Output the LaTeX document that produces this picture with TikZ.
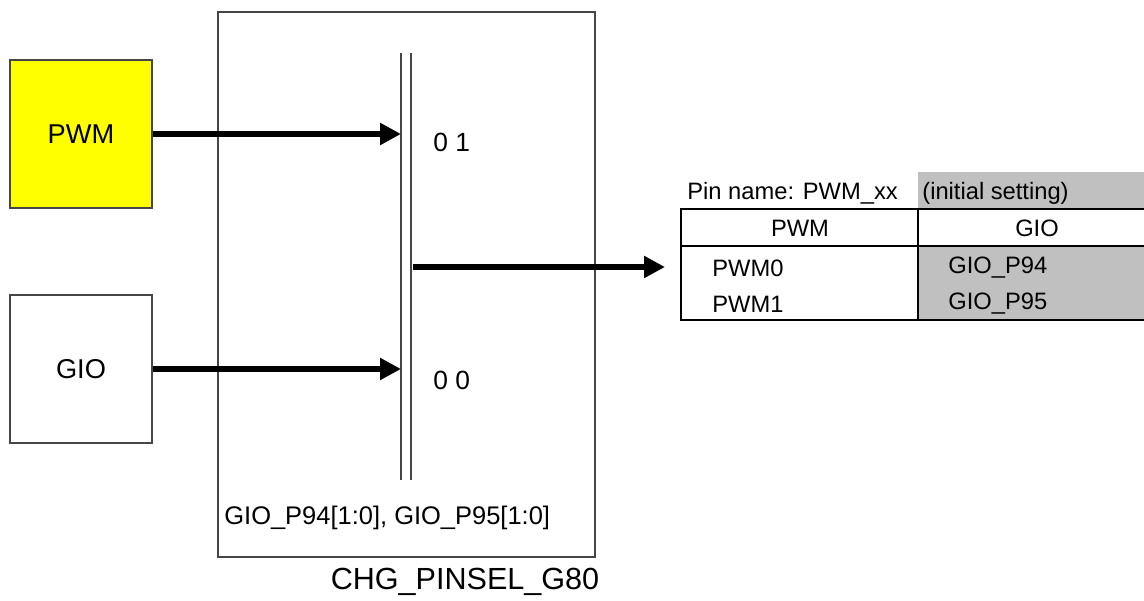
\documentclass[tikz,border=0pt]{standalone}
\usepackage{fontspec}
\setmainfont{Liberation Sans}
\usetikzlibrary{arrows.meta}

\definecolor{pwmyellow}{RGB}{255,255,0}
\definecolor{cellgray}{RGB}{192,192,192}
\definecolor{edgegray}{RGB}{70,70,70}

\tikzset{
  blockbox/.style={draw=edgegray,line width=0.9pt,minimum width=2.84cm,minimum height=2.96cm,inner sep=0pt,font=\fontsize{15.5}{18}\selectfont},
  sig/.style={line width=3.2pt,-{Triangle[length=0.42cm,width=0.42cm]}},
  tabtext/.style={inner sep=0pt,font=\fontsize{13.5}{16}\selectfont},
  seltext/.style={inner sep=0pt,anchor=west,font=\fontsize{15}{18}\selectfont}
}

\begin{document}
\begin{tikzpicture}[x=0.02cm,y=-0.02cm]
\useasboundingbox (0,0) rectangle (1144,601);

% selector block
\draw[edgegray,line width=0.9pt] (218,12) rectangle (595,557);
\draw[edgegray,line width=0.8pt] (401,53) -- (401,480);
\draw[edgegray,line width=0.8pt] (411,53) -- (411,480);
\coordinate (busin) at (401,0);
\coordinate (busout) at (413,267);
\coordinate (tabin) at (665,267);

% sources
\node[blockbox,fill=pwmyellow] (pwm) at (81,134) {PWM};
\node[blockbox,fill=white] (gio) at (81,369) {GIO};

\draw[sig] (pwm.east) -- (pwm.east -| busin);
\draw[sig] (gio.east) -- (gio.east -| busin);
\draw[sig] (busout) -- (tabin);

\node[seltext] (sel01) at (433,142) {0 1};
\node[seltext] (sel00) at (433,380) {0 0};
\node[tabtext,anchor=west,font=\fontsize{14.5}{17}\selectfont] (regs) at (224,518) {GIO\_P94[1:0], GIO\_P95[1:0]};
\node[inner sep=0pt,font=\fontsize{17.4}{20}\selectfont] (blkname) at (465,582) {CHG\_PINSEL\_G80};

% pin table
\fill[cellgray] (918,172) rectangle (1144,210);
\fill[cellgray] (918,246) rectangle (1144,320);
\draw[line width=0.8pt] (1144,209) -- (681,209) -- (681,320) -- (1144,320);
\draw[line width=0.8pt] (681,246) -- (1144,246);
\draw[line width=0.8pt] (918,209) -- (918,320);

\node[tabtext,anchor=west] (pinname) at (687,193) {Pin name: PWM\_xx};
\node[tabtext,anchor=west] (initset) at (922,193) {(initial setting)};
\node[tabtext] (hpwm) at (800,228) {PWM};
\node[tabtext] (hgio) at (1037,228) {GIO};
\node[tabtext,anchor=west] (pwm0) at (712,268) {PWM0};
\node[tabtext,anchor=west] (pwm1) at (712,304) {PWM1};
\node[tabtext,anchor=west] (p94) at (948,268) {GIO\_P94};
\node[tabtext,anchor=west] (p95) at (948,304) {GIO\_P95};
\end{tikzpicture}
\end{document}
